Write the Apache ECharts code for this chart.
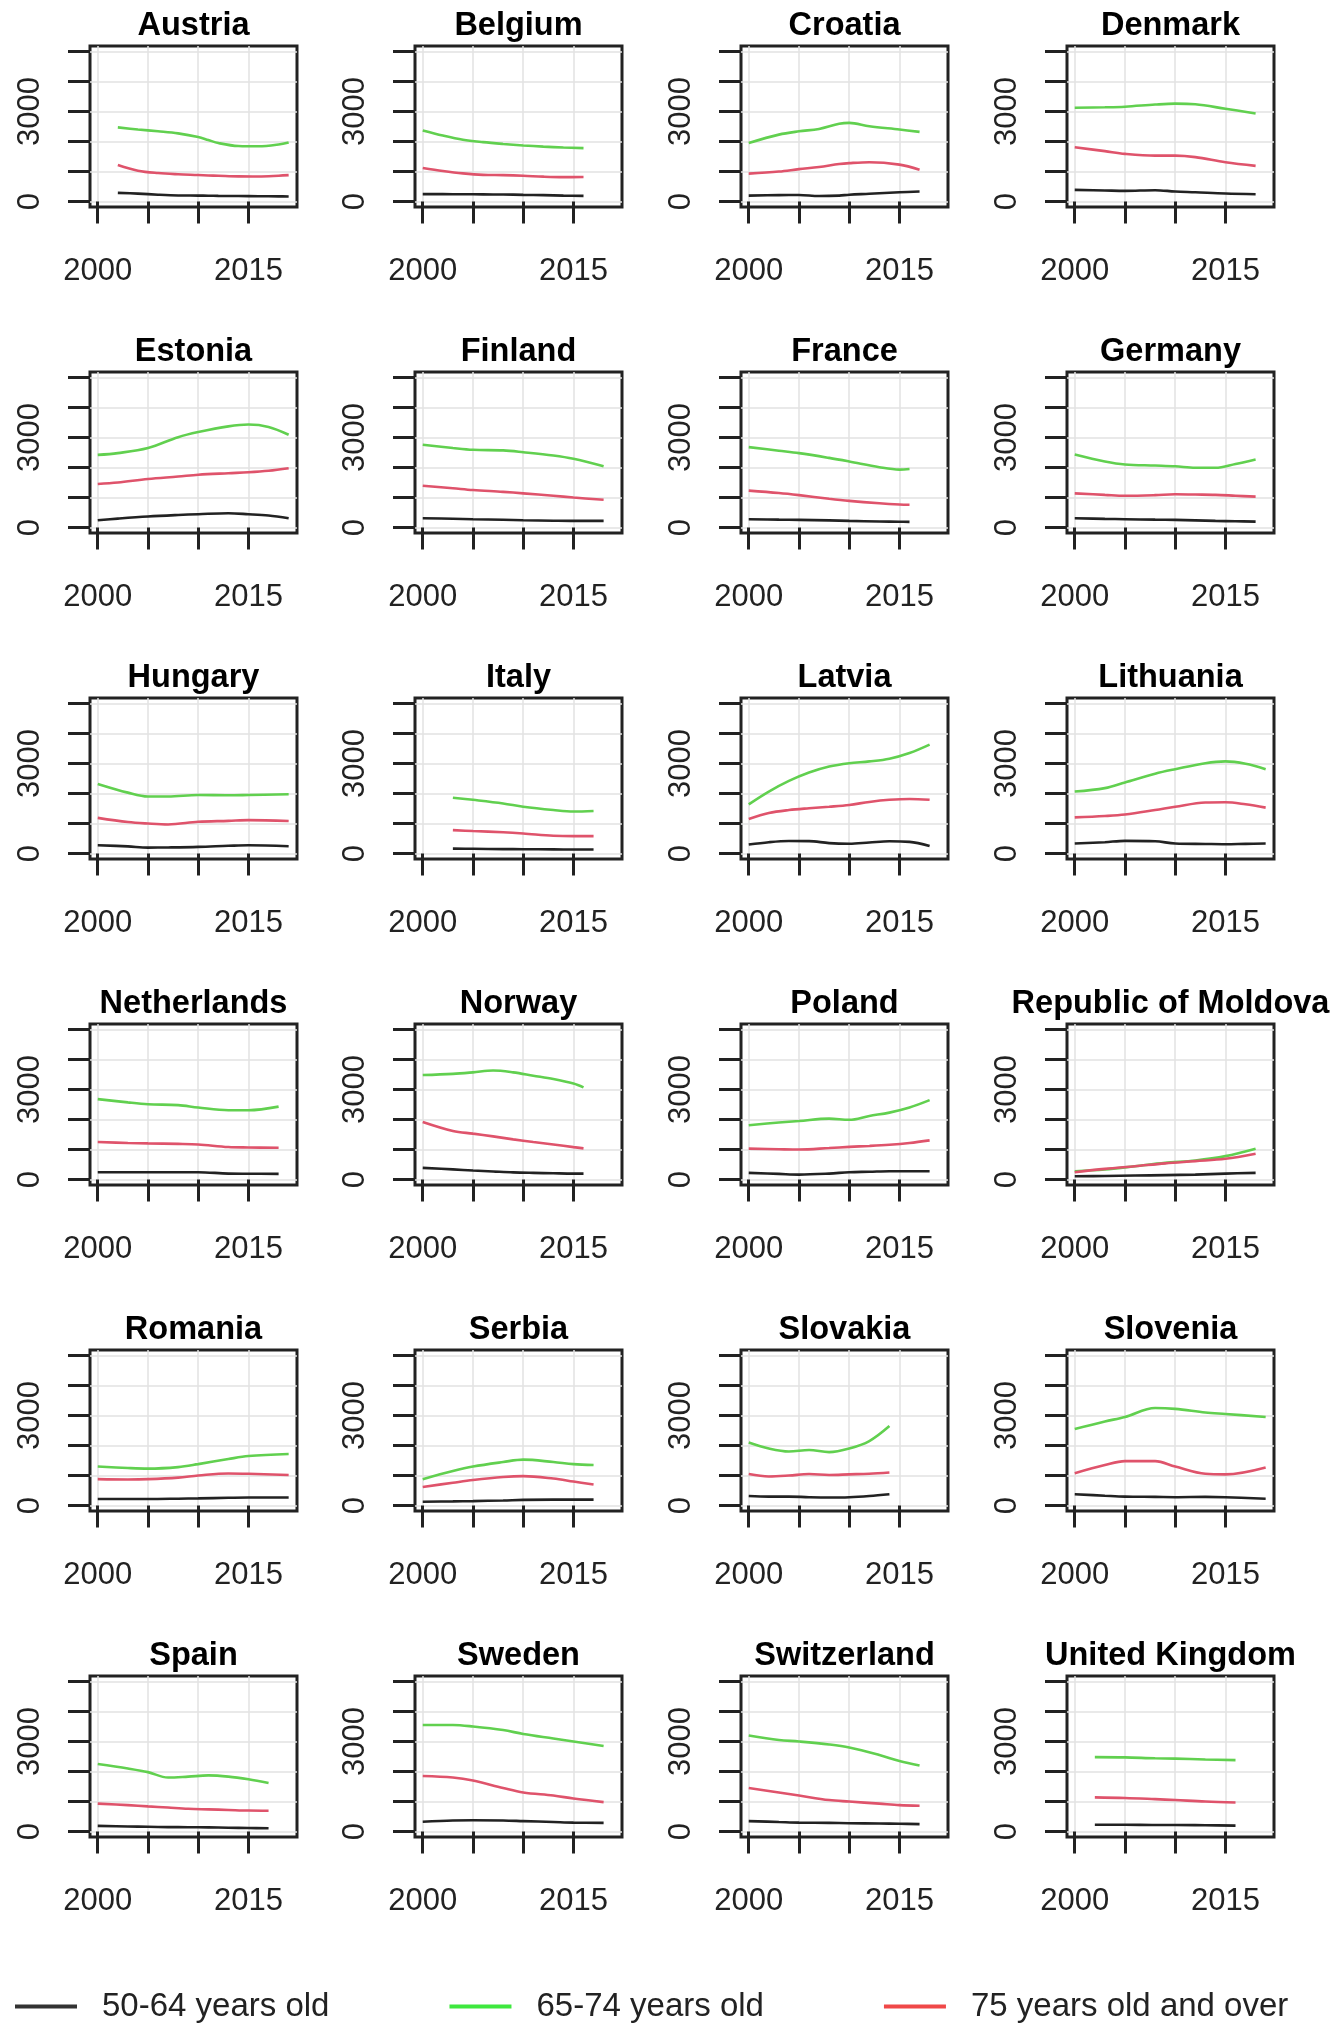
<!DOCTYPE html>
<html>
<head>
<meta charset="utf-8">
<script src="https://cdn.jsdelivr.net/npm/echarts@6/dist/echarts.min.js"></script>
<style>
html,body{margin:0;padding:0;background:#fff;}
#chart{width:1334px;height:2040px;}
</style>
</head>
<body>
<div id="chart"></div>
<script>
const countries = ['Austria','Belgium','Croatia','Denmark','Estonia','Finland','France','Germany','Hungary','Italy','Latvia','Lithuania','Netherlands','Norway','Poland','Republic of Moldova','Romania','Serbia','Slovakia','Slovenia','Spain','Sweden','Switzerland','United Kingdom'];
const seriesNames = ['50-64 years old','65-74 years old','75 years old and over'];
const xTickValues = [2000,2005,2010,2015];
const xLabelValues = [2000,2015];
const yTickValues = [0,1000,2000,3000,4000,5000];
const yLabelValues = [0,3000];

const years = [
  [2002,2004,2006,2008,2010,2011,2012,2014,2016,2018,2019],
  [2000,2002,2004,2006,2008,2010,2012,2014,2016],
  [2000,2003,2005,2007,2009,2010,2012,2015,2017],
  [2000,2003,2005,2008,2010,2012,2015,2018],
  [2000,2002,2005,2008,2010,2013,2015,2017,2019],
  [2000,2003,2005,2008,2010,2013,2015,2018],
  [2000,2003,2005,2008,2010,2013,2015,2016],
  [2000,2003,2005,2008,2010,2012,2014,2016,2018],
  [2000,2003,2005,2007,2010,2013,2015,2019],
  [2003,2005,2008,2010,2013,2015,2017],
  [2000,2002,2004,2006,2008,2010,2012,2014,2016,2018],
  [2000,2003,2005,2008,2010,2013,2015,2017,2019],
  [2000,2003,2005,2008,2010,2013,2015,2018],
  [2000,2003,2005,2007,2009,2011,2013,2015,2016],
  [2000,2003,2005,2008,2010,2012,2014,2016,2018],
  [2000,2003,2006,2009,2012,2015,2018],
  [2000,2003,2005,2008,2010,2013,2015,2019],
  [2000,2003,2005,2008,2010,2013,2015,2017],
  [2000,2002,2004,2006,2008,2010,2012,2014],
  [2000,2003,2005,2008,2010,2013,2015,2019],
  [2000,2003,2005,2007,2009,2011,2013,2015,2017],
  [2000,2003,2005,2008,2010,2013,2015,2018],
  [2000,2003,2005,2008,2010,2013,2015,2017],
  [2002,2005,2008,2010,2013,2016]
];

const age5064 = [
  [290,265,230,205,200,195,190,185,180,175,170],
  [250,248,245,240,235,225,215,200,190],
  [200,215,220,185,200,230,260,310,335],
  [390,370,357,380,335,310,268,245],
  [245,300,370,420,446,480,446,400,312],
  [312,295,279,260,245,230,223,223],
  [279,265,257,240,223,205,195,190],
  [312,290,279,265,257,240,223,210,200],
  [279,240,200,205,223,260,279,245],
  [167,160,150,145,140,135,134],
  [300,380,420,415,350,330,370,410,390,250],
  [335,380,424,410,335,320,312,325,335],
  [245,245,245,245,245,200,195,190],
  [391,340,301,270,240,223,210,200,200],
  [223,190,167,200,245,260,279,280,279],
  [112,120,134,150,167,200,223],
  [220,220,220,230,240,260,270,270],
  [130,140,150,170,190,200,200,200],
  [320,300,300,280,270,280,320,380],
  [380,330,300,290,280,290,280,230],
  [190,170,160,150,145,140,130,120,112],
  [330,370,380,370,350,320,300,290],
  [350,320,300,290,280,270,260,250],
  [230,230,220,220,210,200]
];

const age6574 = [
  [2470,2400,2340,2270,2150,2050,1950,1850,1840,1900,1970],
  [2370,2200,2060,1980,1920,1870,1830,1800,1780],
  [1950,2230,2340,2420,2590,2620,2510,2400,2320],
  [3125,3140,3160,3230,3260,3240,3090,2935],
  [2420,2480,2650,3010,3180,3370,3430,3350,3090],
  [2760,2650,2590,2570,2510,2400,2290,2040],
  [2680,2560,2480,2320,2200,2010,1930,1950],
  [2430,2200,2100,2065,2040,1990,1990,2120,2270],
  [2320,2030,1900,1900,1950,1940,1950,1975],
  [1860,1790,1670,1560,1450,1400,1420],
  [1640,2065,2420,2700,2900,3010,3070,3160,3350,3630],
  [2065,2180,2370,2660,2810,3010,3070,2990,2810],
  [2680,2570,2510,2480,2400,2310,2310,2430],
  [3480,3520,3570,3630,3570,3460,3350,3200,3070],
  [1810,1900,1950,2030,1990,2120,2230,2400,2645],
  [279,335,446,558,636,781,1027],
  [1300,1250,1230,1280,1380,1550,1650,1720],
  [880,1150,1300,1450,1530,1450,1380,1350],
  [2100,1900,1800,1850,1780,1900,2150,2650],
  [2550,2800,2950,3250,3220,3100,3050,2950],
  [2250,2100,1980,1800,1830,1870,1830,1740,1620],
  [3550,3550,3500,3380,3250,3100,3000,2850],
  [3200,3050,3000,2900,2800,2550,2350,2200],
  [2480,2470,2440,2430,2400,2380]
];

const age75plus = [
  [1220,1030,950,910,885,870,860,840,835,860,880],
  [1120,1020,940,890,880,860,830,815,820],
  [930,1000,1080,1150,1250,1280,1310,1230,1060],
  [1810,1680,1590,1530,1530,1480,1310,1190],
  [1450,1500,1620,1700,1760,1810,1840,1890,1975],
  [1395,1310,1250,1190,1140,1060,1000,925],
  [1230,1150,1080,960,890,810,770,760],
  [1140,1090,1060,1080,1110,1100,1090,1060,1030],
  [1190,1050,1000,970,1060,1090,1115,1085],
  [780,750,710,670,595,580,580],
  [1150,1350,1450,1510,1560,1620,1720,1790,1820,1790],
  [1205,1250,1300,1450,1560,1700,1710,1640,1530],
  [1250,1220,1205,1190,1170,1083,1070,1060],
  [1920,1620,1530,1440,1340,1250,1170,1080,1040],
  [1030,1010,1000,1050,1090,1120,1160,1220,1306],
  [245,357,446,540,614,692,860],
  [880,870,880,930,1000,1070,1060,1020],
  [620,760,850,950,980,900,800,700],
  [1050,970,1000,1050,1020,1040,1060,1100],
  [1080,1350,1480,1480,1300,1060,1040,1270],
  [930,880,840,800,760,740,720,700,694],
  [1850,1800,1700,1450,1300,1200,1100,980],
  [1450,1300,1200,1050,1000,930,880,860],
  [1140,1120,1080,1050,1000,970]
];

const lineColors = ['#222222','#61D04F','#DF536B'];
const legendColors = ['#333333','#3ee83e','#f04848'];

const colLeft = [90, 415, 741, 1067];
const rowTop = [46, 372, 698, 1024, 1350, 1676];
const W = 207, H = 161;
const FONT = 'Liberation Sans, Arial, Helvetica, sans-serif';

const grids = [], xAxes = [], yAxes = [], series = [], titles = [];
countries.forEach((name, i) => {
  const c = i % 4, r = Math.floor(i / 4);
  const left = colLeft[c], top = rowTop[r];
  grids.push({left: left, top: top, width: W, height: H, show: true,
    borderColor: '#222', borderWidth: 3, backgroundColor: 'transparent', containLabel: false});
  titles.push({text: name, left: left + W / 2, top: top - 36, textAlign: 'center', padding: 0,
    textStyle: {fontFamily: FONT, fontWeight: 'bold', fontSize: 32.5, color: '#000', lineHeight: 32}});
  xAxes.push({gridIndex: i, type: 'value', min: 1999.23, max: 2019.83,
    axisLine: {show: false},
    axisTick: {show: true, length: 22, customValues: xTickValues, lineStyle: {color: '#222', width: 3}},
    axisLabel: {show: true, customValues: xLabelValues, margin: 49, fontSize: 31, fontFamily: FONT, color: '#222',
      formatter: v => String(v)},
    splitLine: {show: true, lineStyle: {color: '#e2e2e2', width: 1.5}}});
  yAxes.push({gridIndex: i, type: 'value', min: -180, max: 5180,
    axisLine: {show: false},
    axisTick: {show: true, length: 22, customValues: yTickValues, lineStyle: {color: '#222', width: 3}},
    axisLabel: {show: true, customValues: yLabelValues, rotate: 90, margin: 44, fontSize: 31, fontFamily: FONT, color: '#222',
      formatter: v => String(v)},
    splitLine: {show: true, lineStyle: {color: '#e2e2e2', width: 1.5}}});
  [age5064, age6574, age75plus].forEach((arr, k) => {
    series.push({name: seriesNames[k], type: 'line', xAxisIndex: i, yAxisIndex: i,
      data: years[i].map((y, j) => [y, arr[i][j]]),
      showSymbol: false, symbol: 'none', smooth: 0.35,
      lineStyle: {color: lineColors[k], width: 2.6}, itemStyle: {color: lineColors[k]},
      emphasis: {disabled: true}});
  });
});

const chart = echarts.init(document.getElementById('chart'), null, {renderer: 'canvas'});
chart.setOption({
  animation: false,
  backgroundColor: '#fff',
  title: titles,
  grid: grids,
  xAxis: xAxes,
  yAxis: yAxes,
  legend: {left: 10, top: 1985, icon: 'rect', itemWidth: 62, itemHeight: 4, itemGap: 120,
    textStyle: {fontSize: 33, fontFamily: FONT, color: '#222', padding: [0, 0, 0, 20]},
    data: seriesNames.map((n, k) => ({name: n, itemStyle: {color: legendColors[k]}}))},
  series: series
});
</script>
</body>
</html>
